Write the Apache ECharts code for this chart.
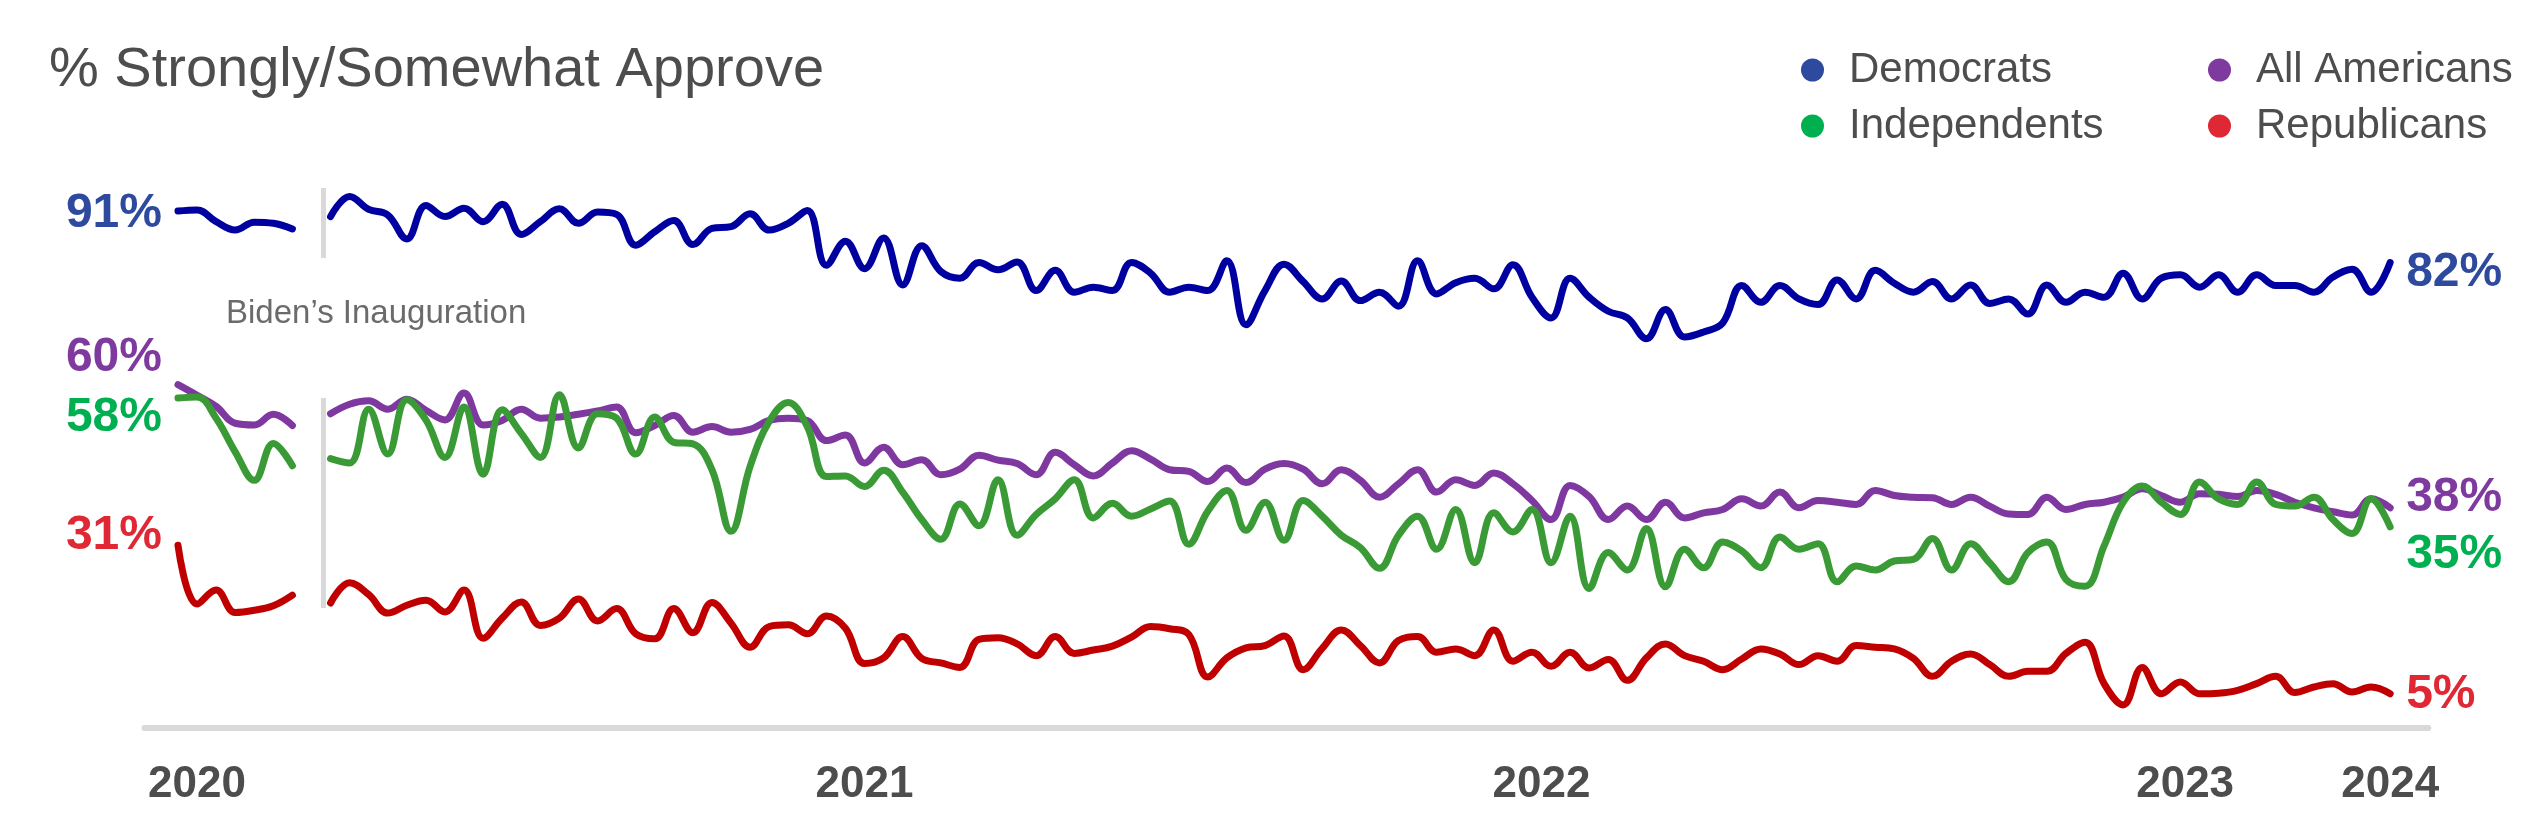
<!DOCTYPE html>
<html>
<head>
<meta charset="utf-8">
<title>% Strongly/Somewhat Approve</title>
<script src="https://cdn.jsdelivr.net/npm/echarts@6/dist/echarts.min.js"></script>
<style>
  html, body { margin: 0; padding: 0; background: #fff; }
  #chart { width: 2544px; height: 832px; }
</style>
</head>
<body>
<div id="chart"></div>
<script>
// survey waves, one value per wave; null = no survey (gap before the inauguration)
var democrats = [
  91, 91.2, 89.1, 87.6, 89, 88.8, 87.8, null,
  90, 93.6, 91.3, 90.3, 86, 92, 90, 91.5, 89.1, 92.2, 86.8, 89.1,
  91.4, 88.8, 90.8, 90.4, 84.9, 87.3, 89.3, 85, 87.9, 88.2,
  90.5, 87.6, 88.8, 91.1, 81.3, 85.6, 80.7, 86.2, 77.8, 84.8,
  80.2, 79, 81.8, 80.5, 81.9, 76.8, 80.4, 76.5, 77.4, 76.8,
  81.8, 79.9, 76.5, 77.4, 76.8, 82.1, 70.7, 76.8, 81.5, 78.4,
  75.3, 78.5, 75, 76.5, 74, 82.1, 76.2, 78.2, 79, 77.1,
  81.4, 75.6, 71.9, 79, 75.6, 73.1, 71.9, 68.2, 73.4, 68.5,
  69.4, 71, 77.7, 74.7, 77.7, 75.3, 74.3, 78.7, 75.3, 80.4,
  78.1, 76.5, 78.4, 75.3, 77.8, 74.5, 75.3, 72.6, 77.8, 74.7,
  76.5, 75.6, 79.9, 75.3, 79, 79.6, 77.4, 79.6, 76.5, 79.6,
  77.7, 77.7, 76.5, 79.2, 80.6, 76.5, 81.8
];
var allAmericans = [
  60, 58.1, 56.1, 53.1, 52.8, 54.7, 52.7, null,
  54.8, 56.5, 57.1, 55.6, 57.4, 55.4, 53.7, 58.5, 52.8, 53.6, 55.6, 54,
  54.2, 54.7, 55.3, 56, 51.4, 52.7, 54.5, 51.5, 52.5, 51.5,
  52, 53.6, 54, 53.6, 50, 51, 46, 48.8, 45.7, 46.6,
  43.9, 44.9, 47.4, 46.5, 45.9, 43.9, 47.9, 45.7, 43.7, 46,
  48.2, 46.7, 44.8, 44.5, 42.7, 45.1, 42.5, 44.9, 45.9, 44.9,
  42.3, 44.8, 42.9, 39.9, 42.3, 44.8, 40.8, 43, 42, 44.2,
  42.3, 39.3, 35.9, 42, 40, 35.9, 38.3, 35.9, 39, 36.2,
  37.1, 37.7, 39.6, 38.3, 40.8, 38, 39.3, 39, 38.6, 41.1,
  40.2, 39.9, 39.8, 38.6, 39.9, 38.3, 36.9, 36.8, 39.9, 37.7,
  38.6, 39, 39.9, 41.4, 40.2, 39, 40.5, 40.4, 40, 41.1,
  40.4, 39, 38, 37.3, 36.7, 39.6, 38
];
var independents = [
  57.6, 57.8, 54, 48, 42.9, 49.5, 45.5, null,
  46.8, 46, 55.6, 47.6, 57.3, 53.7, 47, 56, 44, 55.5, 51.3, 47,
  58.2, 48.7, 54.8, 54, 47.6, 54.2, 49.7, 49.4, 44.8, 33.8,
  45.4, 53.4, 56.8, 52.5, 43.6, 43.7, 41.8, 44.7, 40.8, 35.9,
  32.4, 38.7, 34.8, 43, 33.1, 36.8, 39.6, 43, 36.2, 38.8,
  36.5, 37.8, 39.2, 31.5, 37.4, 41.1, 34, 39, 32.2, 39.3,
  36.5, 33.1, 30.9, 27.2, 33.1, 36.5, 30.6, 37.7, 28.2, 37.1,
  33.7, 37.7, 28.2, 36.5, 23.6, 30, 26.9, 34.3, 23.9, 30.6,
  27.3, 31.9, 30.3, 27.3, 32.8, 30.6, 31.6, 24.8, 27.6, 26.9,
  28.5, 28.8, 32.5, 26.9, 31.6, 28.2, 24.8, 30, 31.9, 25.2,
  24, 31.2, 39, 41.9, 39, 36.8, 42.6, 39.6, 38.6, 42.6,
  38.6, 38.3, 39.9, 35.9, 33.4, 39.6, 34.6
];
var republicans = [
  31.3, 20.8, 23.3, 19.3, 19.7, 20.5, 22.4, null,
  21, 24.6, 22.5, 19.2, 20.6, 21.5, 19.4, 23.3, 14.7, 18.3, 21.2, 17,
  18.3, 21.7, 17.8, 20, 15.5, 14.6, 20, 15.7, 21.1, 17.4,
  13.1, 16.8, 17.1, 15.5, 18.7, 16.5, 10.2, 11.2, 15, 11.1,
  10.3, 9.5, 14.5, 14.8, 13.7, 11.6, 15, 12, 12.6, 13.3,
  14.9, 16.8, 16.4, 15.4, 7.8, 11.2, 13, 13.4, 15.1, 9.1,
  12.9, 16.2, 13.4, 10.3, 14.3, 15, 12.2, 12.8, 11.6, 16.2,
  10.6, 12.2, 9.7, 12.2, 9.4, 10.9, 7.2, 11.2, 13.7, 11.6,
  10.6, 9.1, 11, 12.8, 11.9, 10, 11.6, 10.6, 13.4, 13.1,
  12.8, 11.1, 7.9, 10.6, 11.9, 10, 7.9, 8.8, 8.8, 12,
  14, 6.6, 2.8, 9.5, 4.8, 6.9, 4.8, 4.9, 5.4, 6.6,
  7.9, 5, 6, 6.6, 5.1, 6, 4.8
];

// year ticks: wave position and label
var yearPositions = [1, 36, 71.5, 105.25, 116];
var yearLabels = ['2020', '2021', '2022', '2023', '2024'];

// Biden's inauguration marker (between waves 7 and 8)
var inaugurationAt = 7.6;
var inaugurationSpans = [[95.1, 82.6], [57.6, 20.1]];

var FONT = "'Liberation Sans', Arial, Helvetica, sans-serif";

function buildData(values, firstLabel, lastLabel) {
  return values.map(function (v, i) {
    var item = { value: [i, v == null ? '-' : v] };
    if (i === 0) {
      item.label = Object.assign({ show: true, position: 'left' }, firstLabel);
    }
    if (i === values.length - 1) {
      item.label = Object.assign({ show: true, position: 'right' }, lastLabel);
    }
    return item;
  });
}

function makeSeries(name, values, lineColor, labelColor, firstOffset, lastOffset) {
  return {
    name: name,
    type: 'line',
    data: buildData(values, { offset: [0, firstOffset] }, { offset: [0, lastOffset] }),
    smooth: 0.4,
    symbol: 'circle',
    symbolSize: 0,
    showSymbol: true,
    connectNulls: false,
    itemStyle: { color: labelColor },
    lineStyle: { color: lineColor, width: 7, cap: 'round', join: 'round' },
    label: {
      show: false,
      distance: 16,
      formatter: function (p) { return Math.round(p.value[1]) + '%'; },
      color: labelColor,
      fontFamily: FONT,
      fontSize: 48,
      fontWeight: 'bold'
    },
    emphasis: { disabled: true }
  };
}

var chart = echarts.init(document.getElementById('chart'));

var demSeries = makeSeries('Democrats', democrats, '#0000a0', '#2E4A9F', 3, 10);
demSeries.markLine = {
  silent: true,
  symbol: 'none',
  label: { show: false },
  lineStyle: { color: '#d9d9d9', width: 5, type: 'solid' },
  data: inaugurationSpans.map(function (s) {
    return [{ coord: [inaugurationAt, s[0]] }, { coord: [inaugurationAt, s[1]] }];
  })
};

var legendText = { fontFamily: FONT, fontSize: 42, color: '#4d4d4d', lineHeight: 46, padding: [0, 0, 0, 20] };

option = {
  animation: false,
  backgroundColor: '#ffffff',
  title: [
    {
      text: '% Strongly/Somewhat Approve',
      left: 49, top: 43, padding: 0,
      textStyle: { fontFamily: FONT, fontSize: 56, fontWeight: 'normal', color: '#4d4d4d' }
    },
    {
      text: 'Biden\u2019s Inauguration',
      left: 226, top: 297, padding: 0,
      textStyle: { fontFamily: FONT, fontSize: 33, fontWeight: 'normal', color: '#6b6b6b' }
    }
  ],
  legend: [
    {
      data: ['Democrats', 'Independents'],
      orient: 'vertical', left: 1796, top: 42,
      icon: 'circle', itemWidth: 23, itemHeight: 23, itemGap: 10,
      selectedMode: false, textStyle: legendText
    },
    {
      data: ['All Americans', 'Republicans'],
      orient: 'vertical', left: 2203, top: 42,
      icon: 'circle', itemWidth: 23, itemHeight: 23, itemGap: 10,
      selectedMode: false, textStyle: legendText
    }
  ],
  grid: { left: 144.6, right: 115.7, top: 160.6, bottom: 104.4 },
  xAxis: {
    type: 'value',
    min: -1.75,
    max: 118,
    interval: 0.25,
    axisLine: { show: true, onZero: false, lineStyle: { color: '#d9d9d9', width: 6 } },
    axisTick: { show: false },
    splitLine: { show: false },
    axisLabel: {
      margin: 35,
      fontFamily: FONT,
      fontSize: 44,
      fontWeight: 'bold',
      color: '#4d4d4d',
      formatter: function (v) {
        for (var k = 0; k < yearPositions.length; k++) {
          if (Math.abs(v - yearPositions[k]) < 0.01) return yearLabels[k];
        }
        return '';
      }
    }
  },
  yAxis: { type: 'value', min: -1.25, max: 100, show: false },
  series: [
    demSeries,
    makeSeries('All Americans', allAmericans, '#7e38a0', '#7E3A9E', -27, -10),
    makeSeries('Independents', independents, '#3a9a35', '#00AF50', 20, 28),
    makeSeries('Republicans', republicans, '#c00000', '#DF2833', -10, 1)
  ]
};

chart.setOption(option);
</script>
</body>
</html>
